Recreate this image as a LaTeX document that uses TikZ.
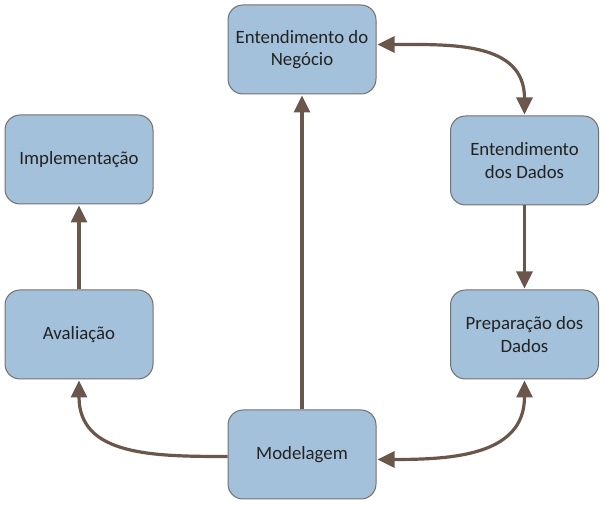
\documentclass[tikz,border=0pt]{standalone}
\usepackage{fontspec}
\setmainfont{Carlito}
\usetikzlibrary{arrows.meta,calc}
\definecolor{boxfill}{HTML}{A3C1DA}
\definecolor{boxline}{HTML}{75706C}
\definecolor{arrowc}{HTML}{6B564B}
\definecolor{txt}{HTML}{222222}
\begin{document}
\begin{tikzpicture}[x=1pt,y=1pt,
  stage/.style={draw=boxline, line width=1pt, fill=boxfill, rounded corners=15pt,
    minimum width=148pt, minimum height=89pt, align=center, text=txt,
    font=\fontsize{18.8}{22.5}\selectfont, inner sep=2pt},
  tip/.tip={Triangle[length=17pt,width=16pt]},
  flow/.style={draw=arrowc, line width=3.2pt, -tip},
  bflow/.style={draw=arrowc, line width=3.2pt, tip-tip}]
\useasboundingbox (0,0) rectangle (605,505);
\node[stage] (neg)  at (302,455.5) {Entendimento do\\Negócio};
\node[stage] (dad)  at (524.5,344.5) {Entendimento\\dos Dados};
\node[stage] (prep) at (524.5,170.5) {Preparação dos\\Dados};
\node[stage] (mod)  at (302,50.5) {Modelagem};
\node[stage] (aval) at (79,170.5) {Avaliação};
\node[stage] (impl) at (79,345.5) {Implementação};
\draw[bflow] ($(neg.east)+(1,5)$) to[out=0,in=90,looseness=1.15] ($(dad.north)+(0,1)$);
\draw[flow] (dad.south) -- ($(prep.north)+(0,1)$);
\draw[bflow] ($(prep.south)+(0,-1)$) to[out=-90,in=0,looseness=1.15] ($(mod.east)+(1,-5)$);
\draw[flow] (mod.north) -- ($(neg.south)+(0,-1)$);
\draw[flow] ($(mod.west)+(0,-2)$) to[out=180,in=-90,looseness=1.15] ($(aval.south)+(0,-1)$);
\draw[flow] (aval.north) -- ($(impl.south)+(0,-1)$);
\end{tikzpicture}
\end{document}
